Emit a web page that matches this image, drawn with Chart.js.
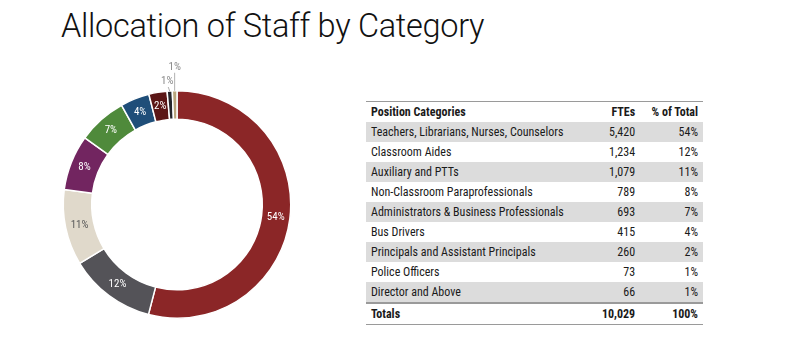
<!DOCTYPE html>
<html>
<head>
<meta charset="utf-8">
<script src="https://cdn.jsdelivr.net/npm/chart.js@4.4.1/dist/chart.umd.min.js"></script>
<style>
  html, body { margin: 0; padding: 0; background: #fff; width: 800px; height: 339px; overflow: hidden; }
  #title { position: absolute; left: 61px; top: 7px; font-family: Roboto, "Liberation Sans", sans-serif; font-weight: 300; font-size: 32.5px; color: #111; white-space: nowrap; letter-spacing: -0.3px; }
  #wrap { position: absolute; left: 40px; top: 50px; width: 274px; height: 290px; }
  #tbl { position: absolute; left: 366px; top: 101px; width: 337px; border-collapse: collapse; font-family: "Liberation Sans Narrow", "Arial Narrow", "Roboto Condensed", "Liberation Sans", sans-serif; font-size: 12px; color: #1a1a1a; }
  #tbl td, #tbl th { padding: 0 5px; height: 20px; line-height: 20px; white-space: nowrap; }
  #tbl th { font-weight: bold; text-align: right; height: 20px; }
  #tbl th:first-child, #tbl td:first-child { text-align: left; }
  #tbl td { text-align: right; }
  #tbl thead tr { border-top: 1.5px solid #9a9a9a; }
  #tbl tr.shade { background: #dcdcdc; }
  #tbl tr.total { border-top: 2px solid #9a9a9a; border-bottom: 1.5px solid #9a9a9a; font-weight: bold; }
</style>
</head>
<body>
<div id="title">Allocation of Staff by Category</div>
<div id="wrap"><canvas id="c"></canvas></div>
<table id="tbl"><thead></thead><tbody></tbody></table>
<script>
const categories = [
  "Teachers, Librarians, Nurses, Counselors",
  "Classroom Aides",
  "Auxiliary and PTTs",
  "Non-Classroom Paraprofessionals",
  "Administrators & Business Professionals",
  "Bus Drivers",
  "Principals and Assistant Principals",
  "Police Officers",
  "Director and Above"
];
const ftes = [5420, 1234, 1079, 789, 693, 415, 260, 73, 66];
const pctLabels = ["54%", "12%", "11%", "8%", "7%", "4%", "2%", "1%", "1%"];
const totalFtes = "10,029";
const totalPct = "100%";
const headers = ["Position Categories", "FTEs", "% of Total"];
const sliceColors = ["#8b2627", "#545358", "#e0d9cb", "#722560", "#4f8a3b", "#1f4e79", "#5b1616", "#26262b", "#b9a57c"];
const labelColors = ["#ffffff", "#ffffff", "#5a5a5a", "#ffffff", "#ffffff", "#ffffff", "#ffffff", "#8a8a8a", "#8a8a8a"];

// table
const thead = document.querySelector('#tbl thead');
const tbody = document.querySelector('#tbl tbody');
thead.innerHTML = '<tr>' + headers.map(h => '<th>' + h + '</th>').join('') + '</tr>';
categories.forEach((c, i) => {
  const tr = document.createElement('tr');
  if (i % 2 === 0) tr.className = 'shade';
  tr.innerHTML = '<td>' + c.replace(/&/g, '&amp;') + '</td><td>' + ftes[i].toLocaleString('en-US') + '</td><td>' + pctLabels[i] + '</td>';
  tbody.appendChild(tr);
});
const trT = document.createElement('tr');
trT.className = 'total';
trT.innerHTML = '<td>Totals</td><td>' + totalFtes + '</td><td>' + totalPct + '</td>';
tbody.appendChild(trT);

const labelFont = '11px "Liberation Sans Narrow", "Arial Narrow", "Roboto Condensed", "Liberation Sans", sans-serif';
const sliceLabels = {
  id: 'sliceLabels',
  afterDatasetsDraw(chart) {
    const ctx = chart.ctx;
    const meta = chart.getDatasetMeta(0);
    ctx.save();
    ctx.font = labelFont;
    ctx.textAlign = 'center';
    ctx.textBaseline = 'middle';
    let outsideIdx = 0;
    meta.data.forEach((arc, i) => {
      const p = arc.getProps(['startAngle', 'endAngle', 'innerRadius', 'outerRadius', 'x', 'y'], true);
      const mid = (p.startAngle + p.endAngle) / 2;
      const span = p.endAngle - p.startAngle;
      if (span > 0.15) {
        const r = (p.innerRadius + p.outerRadius) / 2;
        ctx.fillStyle = labelColors[i];
        ctx.fillText(pctLabels[i], p.x + Math.cos(mid) * r, p.y + Math.sin(mid) * r);
      } else {
        const sx = p.x + Math.cos(mid) * p.outerRadius;
        const sy = p.y + Math.sin(mid) * p.outerRadius;
        const len = outsideIdx === 0 ? 4 : 18;
        const ex = sx + (outsideIdx === 0 ? -1.5 : 0);
        const ey = sy - len;
        ctx.strokeStyle = '#b0b0b0';
        ctx.lineWidth = 1;
        ctx.beginPath();
        ctx.moveTo(sx, sy);
        ctx.lineTo(ex, ey);
        ctx.stroke();
        ctx.fillStyle = labelColors[i];
        ctx.fillText(pctLabels[i], ex - (outsideIdx === 0 ? 1 : 0), ey - 6);
        outsideIdx++;
      }
    });
    ctx.restore();
  }
};

new Chart(document.getElementById('c'), {
  type: 'doughnut',
  data: {
    labels: categories,
    datasets: [{
      data: ftes,
      backgroundColor: sliceColors,
      borderColor: '#ffffff',
      borderWidth: 1.5
    }]
  },
  options: {
    responsive: true,
    maintainAspectRatio: false,
    animation: false,
    cutout: '75%',
    layout: { padding: { top: 40, bottom: 21, left: 0, right: 0 } },
    plugins: { legend: { display: false }, tooltip: { enabled: false } }
  },
  plugins: [sliceLabels]
});
</script>
</body>
</html>
